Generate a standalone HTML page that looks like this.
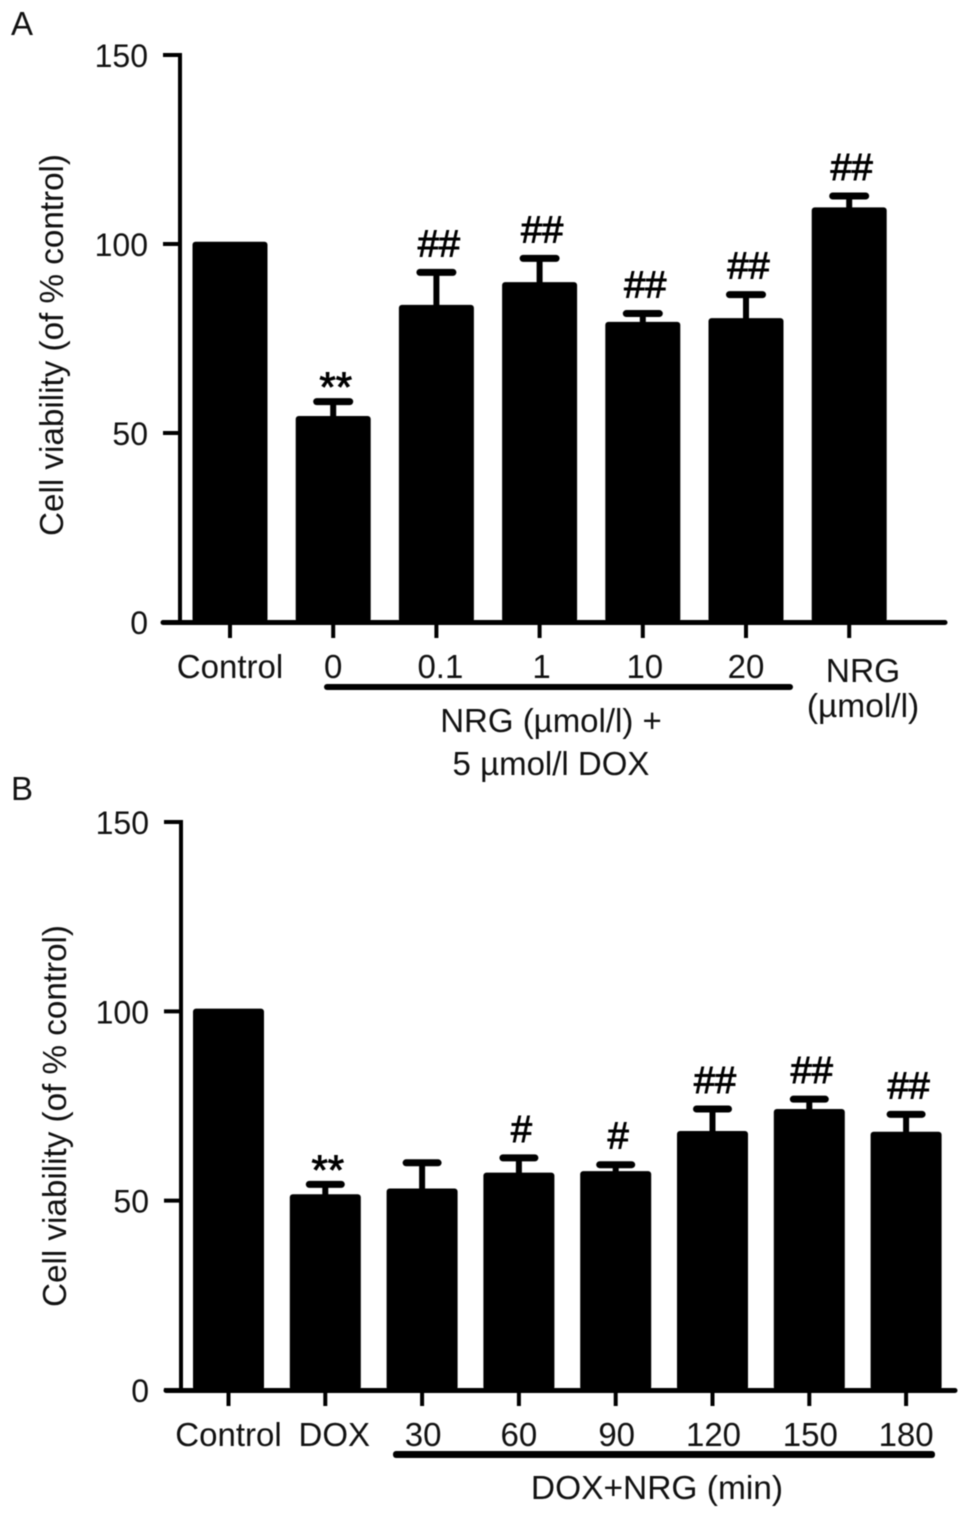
<!DOCTYPE html>
<html lang="en">
<head>
<meta charset="utf-8">
<title>Cell viability bar charts</title>
<style>
html,body{margin:0;padding:0;background:#fff;width:971px;height:1518px;overflow:hidden}
svg{display:block;filter:blur(0.5px)}
text{font-family:"Liberation Sans",sans-serif;fill:#111}
</style>
</head>
<body>
<svg id="figure" xmlns="http://www.w3.org/2000/svg" width="971" height="1518" viewBox="0 0 971 1518">
<text x="11" y="35" font-size="33">A</text>
<text x="11" y="800" font-size="33">B</text>
<text transform="translate(63,345) rotate(-90)" text-anchor="middle" font-size="33" textLength="382" lengthAdjust="spacingAndGlyphs">Cell viability (of % control)</text>
<text transform="translate(66,1116) rotate(-90)" text-anchor="middle" font-size="33" textLength="382" lengthAdjust="spacingAndGlyphs">Cell viability (of % control)</text>
<rect x="324" y="684" width="469" height="6" rx="3" fill="#000"/>
<rect x="393" y="1451" width="542" height="7" rx="3" fill="#000"/>
<text x="863" y="682" text-anchor="middle" font-size="33.5">NRG</text>
<text x="863" y="717" text-anchor="middle" font-size="33.5">(µmol/l)</text>
<text x="551" y="732" text-anchor="middle" font-size="33">NRG (µmol/l) +</text>
<text x="551" y="775" text-anchor="middle" font-size="33">5 µmol/l DOX</text>
<text x="657" y="1499" text-anchor="middle" font-size="33.5">DOX+NRG (min)</text>
</svg>
<script>
const yTicks = [0, 50, 100, 150];

const categoriesA = ['Control', '0', '0.1', '1', '10', '20', ''];
const valuesA = [100.6, 54.5, 83.9, 89.9, 79.4, 80.4, 109.7];
const errorTopsA = [100.6, 58.3, 92.5, 96.2, 81.6, 86.6, 112.7];
const marksA = ['', '**', '##', '##', '##', '##', '##'];

const categoriesB = ['Control', 'DOX', '30', '60', '90', '120', '150', '180'];
const valuesB = [100.7, 51.7, 53.2, 57.4, 57.8, 68.4, 74.2, 68.2];
const errorTopsB = [100.7, 54.3, 60, 61.3, 59.5, 74.2, 76.8, 72.8];
const marksB = ['', '**', '', '#', '#', '##', '##', '##'];

const svg = document.getElementById('figure');
const NS = 'http://www.w3.org/2000/svg';

function make(tag, attrs, parent) {
  const el = document.createElementNS(NS, tag);
  for (const k in attrs) el.setAttribute(k, attrs[k]);
  parent.appendChild(el);
  return el;
}

function drawPanel(p) {
  const g = make('g', {}, svg);
  
  
  const yScale = v => p.y0 - v * (p.y0 - p.y150) / 150;
  const xScale = i => p.xFirst + i * p.xStep;

  const yAxis = make('line', {x1: p.axisX, x2: p.axisX, y1: p.y150 - 2, y2: p.y0, stroke: '#000', 'stroke-width': 4}, g);
  
  

  const xAxis = make('line', {x1: p.axisLeft, x2: p.axisRight, y1: p.y0 + 0.5, y2: p.y0 + 0.5, stroke: '#000', 'stroke-width': 5, 'stroke-linecap': 'round'}, g);
  
  

  yTicks.forEach(t => {
    const y = yScale(t);
    const tick = make('line', {x1: p.axisX - 17, x2: p.axisX, y1: y, y2: y, stroke: '#000', 'stroke-width': 4}, g);
    
    
    const label = make('text', {x: p.axisX - 32, y: y + 12, 'text-anchor': 'end', 'font-size': 32}, g);
    label.textContent = t;
    
    
  });

  p.categories.forEach((c, i) => {
    const x = xScale(i);
    const top = yScale(p.values[i]);
    const errTop = yScale(p.errorTops[i]);

    if (p.errorTops[i] > p.values[i]) {
      const stem = make('line', {x1: x, x2: x, y1: errTop, y2: top + 2, stroke: '#000', 'stroke-width': 6}, g);
      
      
      const cap = make('rect', {x: x - p.capW / 2, y: errTop - 3.5, width: p.capW, height: 7, rx: 3.5, fill: '#000'}, g);
      
      
    }

    const bar = make('rect', {x: x - p.barW / 2, y: top, width: p.barW, height: p.y0 - top, rx: 3, fill: '#000'}, g);
    
    

    const tick = make('line', {x1: x, x2: x, y1: p.y0, y2: p.y0 + 16, stroke: '#000', 'stroke-width': 4}, g);
    
    

    if (c) {
      const nudge = p.nudge[c] || 0;
      const label = make('text', {x: x + nudge, y: p.labelY, 'text-anchor': 'middle', 'font-size': 33}, g);
      label.textContent = c;
      
      
    }

    const mark = p.marks[i];
    if (mark) {
      const isStar = mark === '**';
      const m = make('text', {x: x + 2.5, y: errTop - (isStar ? 0 : 16), 'text-anchor': 'middle', 'font-size': isStar ? 42 : 38, style: 'fill:#000;stroke:#000;stroke-width:0.9'}, g);
      m.textContent = mark;
      
      
    }
  });
}

drawPanel({
  id: 'panel-a', y0: 622, y150: 55, axisX: 180, axisLeft: 163, axisRight: 945,
  xFirst: 230, xStep: 103.2, barW: 75, capW: 40, labelY: 678,
  categories: categoriesA, values: valuesA, errorTops: errorTopsA, marks: marksA,
  nudge: {'0.1': 4, '1': 2, '10': 2}
});
drawPanel({
  id: 'panel-b', y0: 1390, y150: 822, axisX: 181, axisLeft: 166, axisRight: 955,
  xFirst: 228.5, xStep: 96.8, barW: 71, capW: 39, labelY: 1446,
  categories: categoriesB, values: valuesB, errorTops: errorTopsB, marks: marksB,
  nudge: {'DOX': 9, '30': 1, '90': 1, '120': 1, '150': 1}
});
</script>
</body>
</html>
